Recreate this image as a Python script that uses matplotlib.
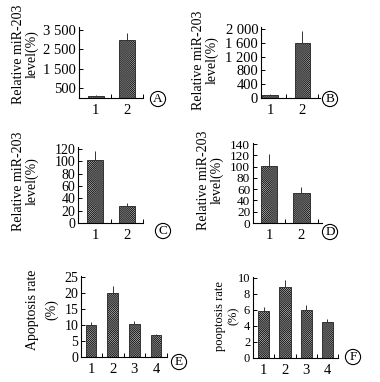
import matplotlib
matplotlib.use("Agg")
import matplotlib.pyplot as plt
from matplotlib.ticker import FuncFormatter

plt.rcParams['font.family'] = ['Liberation Serif', 'DejaVu Serif']
plt.rcParams['hatch.linewidth'] = 0.35
plt.rcParams['hatch.color'] = '#222222'

# data
mir_a = [100, 2980]
mir_a_err = [30, 350]
mir_b = [100, 1610]
mir_b_err = [20, 330]
mir_c = [102, 28]
mir_c_err = [14, 5]
mir_d = [101, 53]
mir_d_err = [21, 11]
apo_e = [10, 20, 10.2, 6.8]
apo_e_err = [0.8, 2.1, 0.9, 0.4]
pyro_f = [5.8, 8.8, 5.95, 4.5]
pyro_f_err = [0.6, 0.9, 0.6, 0.4]

groups2 = [1, 2]
groups4 = [1, 2, 3, 4]

W, H = 380, 382
fig = plt.figure(figsize=(W / 100, H / 100), dpi=100)


def px_axes(left, top, right, bottom):
    # axes placed by pixel box in the 380x382 picture
    return fig.add_axes([left / W, 1 - bottom / H, (right - left) / W, (bottom - top) / H])


def thousands(v, pos):
    v = int(round(v))
    if v >= 1000:
        return '{0} {1:03d}'.format(v // 1000, v % 1000)
    return str(v)


def panel(box, xs, vals, errs, xlim, ylim, yticks, width, fs, fmt=None):
    ax = px_axes(*box)
    ax.bar(xs, vals, width=width, color='#b4b4b4', edgecolor='#222222', linewidth=0.6,
           hatch='x' * 16, zorder=2)
    ax.errorbar(xs, vals, yerr=[[0] * len(errs), errs], fmt='none', ecolor='#333333',
                elinewidth=0.7, capsize=0, zorder=3)
    ax.set_xlim(*xlim)
    ax.set_ylim(*ylim)
    ax.set_yticks(yticks)
    if fmt:
        ax.yaxis.set_major_formatter(FuncFormatter(fmt))
    ax.set_xticks(xs)
    ax.set_xticks([x + 0.5 for x in xs], minor=True)
    ax.tick_params(axis='x', which='major', length=0, pad=4, labelsize=10.5)
    ax.tick_params(axis='x', which='minor', direction='in', length=3, width=0.7)
    ax.tick_params(axis='y', direction='in', length=3, width=0.7, pad=2, labelsize=fs)
    for s in ['top', 'right']:
        ax.spines[s].set_visible(False)
    for s in ['left', 'bottom']:
        ax.spines[s].set_linewidth(0.8)
    return ax


panel((79, 27, 143, 98), groups2, mir_a, mir_a_err, (0.47, 2.47), (0, 3650),
      [500, 1500, 2500, 3500], 0.5, 10.5, thousands)
panel((261, 27, 320, 98), groups2, mir_b, mir_b_err, (0.72, 2.56), (0, 2060),
      [0, 400, 800, 1200, 1600, 2000], 0.47, 10.5, thousands)
panel((78, 147, 143, 223), groups2, mir_c, mir_c_err, (0.47, 2.47), (0, 123),
      range(0, 121, 20), 0.5, 10)
panel((253, 143, 322, 223), groups2, mir_d, mir_d_err, (0.51, 2.63), (0, 141.8),
      range(0, 141, 20), 0.5, 9.5)
panel((81, 276, 167, 357), groups4, apo_e, apo_e_err, (0.54, 4.46), (0, 25.3),
      range(0, 26, 5), 0.48, 10)
panel((253, 277, 338, 358), groups4, pyro_f, pyro_f_err, (0.49, 4.44), (0, 10.1),
      range(0, 11, 2), 0.53, 9)

# y labels: text, x centre, y centre, font size, line spacing
ylabels = [
    ('Relative miR-203\nlevel(%)', 25, 54, 10, 1.0),
    ('Relative miR-203\nlevel(%)', 205.5, 60, 10, 1.05),
    ('Relative miR-203\nlevel(%)', 25, 181, 10, 1.0),
    ('Relative miR-203\nlevel(%)', 210, 180, 10, 1.05),
    ('Apoptosis rate\n(%)', 42.5, 310, 10, 1.6),
    ('pooptosis rate\n(%)', 227, 316, 9, 1.2),
]
for txt, x, y, fs, ls in ylabels:
    fig.text(x / W, 1 - y / H, txt, rotation=90, ha='center', va='center',
             fontsize=fs, linespacing=ls, multialignment='center')

# circled panel letters
letters = [('A', 158, 99), ('B', 330, 99), ('C', 163, 231),
           ('D', 330, 232), ('E', 179, 362), ('F', 353, 357)]
for t, x, y in letters:
    fig.text(x / W, 1 - y / H, t, ha='center', va='center', fontsize=9.5,
             bbox=dict(boxstyle='circle,pad=0.12', fc='white', ec='black', lw=0.8))

fig.savefig('out.png', dpi=100)
